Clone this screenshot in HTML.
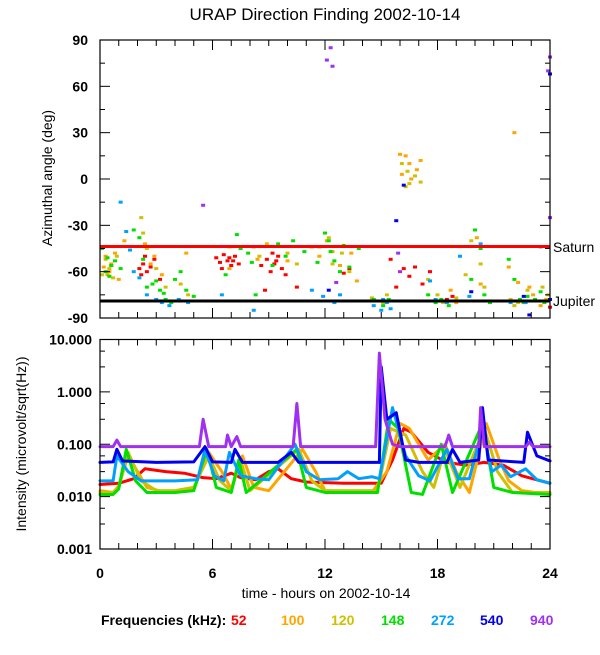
<!DOCTYPE html>
<html><head><meta charset="utf-8">
<style>
body{margin:0;background:#fff;}
svg text{font-family:"Liberation Sans",sans-serif;font-weight:bold;}
</style></head>
<body>
<svg id="chart" width="600" height="650" viewBox="0 0 600 650" xmlns="http://www.w3.org/2000/svg">
<text x="325" y="20" font-size="17" text-anchor="middle" style="font-weight:normal">URAP Direction Finding  2002-10-14</text>
<g id="topPanel"></g>
<g id="botPanel"></g>
<text transform="translate(52,178) rotate(-90)" font-size="14" text-anchor="middle" style="font-weight:normal">Azimuthal angle (deg)</text>
<text transform="translate(26,444) rotate(-90)" font-size="14" text-anchor="middle" style="font-weight:normal">Intensity (microvolt/sqrt(Hz))</text>
<text x="326" y="598" font-size="14" text-anchor="middle" style="font-weight:normal">time - hours on 2002-10-14</text>
<text x="553" y="252" font-size="14" style="font-weight:normal">Saturn</text>
<text x="553" y="306" font-size="14" style="font-weight:normal">Jupiter</text>
<g font-size="14">
<text x="101" y="625">Frequencies (kHz):</text>
<text x="231" y="625" fill="#ff0000">52</text>
<text x="281" y="625" fill="#ffa500">100</text>
<text x="331" y="625" fill="#d0c000">120</text>
<text x="381" y="625" fill="#00e000">148</text>
<text x="431" y="625" fill="#00a0ff">272</text>
<text x="480" y="625" fill="#0000ee">540</text>
<text x="530" y="625" fill="#a030f0">940</text>
</g>
</svg>
<script>
const freqs=['52','100','120','148','272','540','940'];
const colors=['#ff0000','#ffa500','#d0c000','#00e000','#00a0ff','#0000ee','#a030f0'];
const xTicks=[0,6,12,18,24];
const angleTicks=[90,60,30,0,-30,-60,-90];
const intTicks=[10,1,0.1,0.01,0.001];
const intTickLabels=['10.000','1.000','0.100','0.010','0.001'];
const saturnAngle=-43.7;
const jupiterAngle=-79;
// intensity series: [hour, value]
const s52=[[0,0.017],[1,0.018],[1.8,0.022],[2.4,0.034],[3.5,0.03],[4.5,0.028],[5.5,0.023],[6.2,0.022],[7,0.028],[7.5,0.023],[8.3,0.021],[9,0.03],[9.5,0.034],[10.2,0.022],[11,0.019],[13,0.018],[15,0.018],[15.6,0.05],[16.2,0.2],[16.6,0.17],[17.5,0.07],[18.5,0.045],[19.5,0.04],[20.5,0.045],[21.5,0.04],[22.5,0.025],[23.5,0.02],[24,0.018]];
const s100=[[0,0.013],[0.7,0.012],[1,0.016],[1.5,0.06],[2,0.03],[2.5,0.015],[3.5,0.012],[5,0.014],[5.8,0.07],[6.5,0.03],[7,0.014],[7.6,0.06],[8.2,0.015],[9,0.013],[10.8,0.08],[11.5,0.03],[12,0.013],[14.5,0.012],[15.3,0.03],[16,0.25],[16.5,0.2],[17.5,0.05],[18.4,0.1],[19,0.03],[19.7,0.012],[20.6,0.25],[21.3,0.05],[21.8,0.02],[22.5,0.013],[24,0.011]];
const s120=[[0,0.012],[0.7,0.012],[1,0.015],[1.5,0.07],[2.2,0.02],[3,0.013],[4,0.013],[5,0.015],[5.8,0.06],[6.4,0.02],[7,0.013],[7.5,0.05],[8,0.013],[10.6,0.08],[11.3,0.02],[12,0.013],[14.8,0.013],[15.5,0.2],[16.3,0.15],[17.2,0.03],[17.8,0.015],[18.4,0.08],[19.2,0.015],[20.5,0.2],[21.2,0.03],[22,0.012],[24,0.012]];
const s148=[[0,0.011],[0.7,0.011],[1,0.014],[1.4,0.08],[1.9,0.02],[2.5,0.012],[4,0.012],[5,0.013],[5.7,0.08],[6.2,0.015],[7,0.012],[7.4,0.05],[7.8,0.012],[10.5,0.08],[11,0.015],[12,0.012],[14.8,0.012],[15.4,0.3],[15.9,0.2],[16.6,0.012],[17.2,0.011],[18.2,0.1],[18.8,0.012],[20.4,0.25],[21,0.015],[22,0.012],[24,0.011]];
const s272=[[0,0.02],[0.7,0.02],[0.9,0.06],[1.5,0.03],[2.2,0.02],[4,0.02],[5.2,0.021],[5.6,0.08],[6.1,0.025],[6.6,0.02],[6.9,0.07],[7.5,0.025],[8.3,0.022],[9,0.021],[10.4,0.1],[11,0.03],[11.7,0.021],[12.7,0.022],[13.2,0.03],[13.8,0.022],[14.5,0.024],[14.9,0.022],[15.6,0.5],[16.3,0.06],[17,0.025],[17.6,0.02],[18.5,0.08],[19.1,0.022],[19.7,0.022],[20.4,0.2],[20.9,0.03],[21.4,0.04],[21.9,0.024],[22.7,0.034],[23.3,0.021],[24,0.018]];
const s540=[[0,0.045],[0.7,0.046],[0.9,0.08],[1.2,0.048],[3,0.045],[5,0.046],[5.6,0.09],[6,0.046],[7,0.045],[7.2,0.08],[7.6,0.045],[9.5,0.045],[10.2,0.07],[10.6,0.045],[14.9,0.045],[15,3],[15.3,0.3],[15.8,0.4],[16.3,0.05],[17,0.045],[18.5,0.045],[18.8,0.08],[19.2,0.045],[20.2,0.05],[20.4,0.5],[20.7,0.05],[22.6,0.045],[22.8,0.17],[23.3,0.06],[24,0.048]];
const s940=[[0,0.09],[0.7,0.09],[0.9,0.12],[1.1,0.09],[5.3,0.09],[5.5,0.3],[5.8,0.09],[6.7,0.09],[6.8,0.15],[7,0.09],[7.3,0.14],[7.5,0.09],[10.3,0.09],[10.5,0.6],[10.7,0.09],[14.7,0.09],[14.9,5.5],[15.2,0.3],[15.6,0.1],[16,0.09],[18.4,0.09],[18.6,0.15],[18.8,0.09],[20.2,0.09],[20.3,0.5],[20.5,0.09],[22.7,0.09],[22.9,0.11],[23.1,0.09],[24,0.09]];
const intSeries=[s52,s100,s120,s148,s272,s540,s940];
// azimuth scatter: [hour, angle]
const a52=[[2.1,-58],[2.3,-55],[2.5,-60],[2.7,-57],[2.9,-52],[3.2,-65],[2.4,-50],[2.2,-62],[6.2,-51],[6.4,-54],[6.6,-49],[6.8,-53],[7,-56],[7.2,-50],[7.4,-55],[6.5,-58],[6.9,-51],[7.1,-53],[8.6,-56],[8.9,-52],[9.1,-60],[9.3,-55],[9.5,-50],[9.7,-58],[9.9,-62],[9.2,-48],[9.4,-53],[8.8,-72],[10.5,-70],[13,-61],[13.3,-58],[15.5,-52],[15.8,-70],[16.2,-58],[16.5,-63],[16.8,-57],[17.2,-68],[17.6,-60],[18.2,-79],[18.5,-78],[18.8,-76],[24,-83]];
const a100=[[0.2,-57],[0.4,-62],[0.6,-55],[0.8,-48],[1,-65],[0.3,-50],[0.5,-60],[1.3,-40],[2.4,-42],[2.7,-55],[2.9,-50],[3.3,-62],[4.6,-48],[6.9,-58],[8.2,-44],[8.4,-52],[10,-53],[11.3,-44],[11.7,-50],[12.1,-40],[12.4,-47],[12.8,-56],[13.4,-48],[13.7,-66],[16,16],[16.3,15],[16.5,10],[16.6,0],[16.9,6],[17.1,12],[16.1,3],[18.7,-72],[19,-80],[19.4,-79],[20.1,-38],[20.3,-68],[21.8,-57],[22.1,30],[22.3,-67],[22.6,-80],[23.1,-75],[23.5,-82],[23.8,-78],[22.9,-70]];
const a120=[[0.1,-62],[0.3,-52],[0.5,-58],[0.7,-64],[0.9,-50],[0.6,-56],[2.2,-25],[2.3,-35],[2.5,-45],[3,-58],[3.5,-70],[4.3,-68],[4.7,-75],[6.9,-44],[8.5,-50],[8.9,-42],[10,-48],[10.5,-55],[11.7,-44],[12.2,-38],[12.4,-55],[12.9,-48],[13.3,-60],[14.5,-77],[15.1,-80],[15.3,-75],[16.1,10],[16.3,-5],[16.5,-3],[16.8,2],[17.1,-2],[16.4,5],[17.5,-65],[18,-75],[18.3,-80],[19,-77],[19.5,-62],[19.8,-40],[20.3,-55],[20.5,-70],[21.9,-78],[22.3,-80],[22.8,-72],[23.2,-79],[23.6,-70],[23.9,-75],[22.1,-82]];
const a148=[[0.1,-45],[0.3,-60],[0.6,-56],[0.8,-53],[1.1,-58],[0.5,-63],[0.4,-51],[1.8,-33],[2.1,-38],[2.3,-52],[2.5,-70],[2.8,-68],[3.2,-72],[3.5,-78],[3.8,-80],[4,-65],[4.3,-60],[4.6,-72],[5,-76],[3,-66],[3.4,-74],[6.7,-62],[7.3,-36],[7.5,-45],[7.9,-48],[8.1,-54],[8.3,-75],[9.2,-56],[9.5,-42],[9.9,-50],[10.3,-40],[10.9,-47],[11.6,-54],[12,-35],[12.2,-40],[12.5,-53],[12.8,-60],[13,-43],[13.3,-57],[13.8,-45],[12.3,-47],[14.6,-78],[15.1,-82],[15.4,-78],[17.5,-75],[17.9,-80],[18.2,-78],[18.6,-82],[19.8,-65],[20,-33],[20.3,-45],[20.5,-75],[20.8,-80],[21.8,-52],[22.1,-65],[22.4,-78],[22.8,-76],[23.2,-78],[23.5,-73],[23.7,-80],[22.6,-80],[23,-79]];
const a272=[[1.1,-15],[1.4,-34],[1.6,-46],[1.8,-60],[2.1,-64],[2.5,-75],[3,-78],[3.3,-80],[3.7,-82],[4.2,-78],[4.7,-80],[6.5,-75],[8.2,-85],[11.3,-72],[11.9,-76],[12.5,-80],[12.8,-75],[14.6,-82],[15,-85],[15.3,-80],[15.5,-84],[15.1,-78],[17.6,-66],[17.9,-78],[18.5,-80],[19.2,-50],[19.7,-76],[20.3,-42],[21.9,-80],[22.7,-80],[23.5,-44]];
const a540=[[12.2,-72],[15.8,-27],[16.2,-4],[19.8,-73],[22.6,-76],[22.9,-88],[24,-78],[24,68]];
const a940=[[5.5,-17],[12.3,85],[12.1,77],[12.4,73],[12.6,-67],[15.9,-48],[16,-60],[24,79],[23.9,70],[24,-25]];
const azSeries=[a52,a100,a120,a148,a272,a540,a940];

const NS='http://www.w3.org/2000/svg';
const X0=100,X1=550;
const xS=t=>X0+(X1-X0)*t/24;
const T0=40,T1=318;
const yA=a=>T1-(a+90)/180*(T1-T0);
const B0=339.5,B1=549;
const yI=v=>B0+(1-Math.log10(v))/4*(B1-B0);
function mk(tag,attrs,parent){const e=document.createElementNS(NS,tag);for(const k in attrs)e.setAttribute(k,attrs[k]);parent.appendChild(e);return e;}
const topG=document.getElementById('topPanel'),botG=document.getElementById('botPanel');

azSeries.forEach((pts,i)=>{
  const g=mk('g',{fill:colors[i]},topG);
  
  
  pts.forEach(p=>{
    const r=mk('rect',{x:xS(p[0])-2,y:yA(p[1])-1.5,width:4,height:3},g);
    
    
  });
});
const sl=mk('line',{x1:X0,x2:X1,y1:yA(saturnAngle),y2:yA(saturnAngle),stroke:'#ff0000','stroke-width':3},topG);


const jl=mk('line',{x1:X0,x2:X1,y1:yA(jupiterAngle),y2:yA(jupiterAngle),stroke:'#000','stroke-width':3},topG);



intSeries.forEach((pts,i)=>{
  const p=mk('polyline',{points:pts.map(q=>xS(q[0])+','+yI(q[1])).join(' '),fill:'none',stroke:colors[i],'stroke-width':3,'stroke-linejoin':'round','stroke-linecap':'round'},botG);
  
  
});

function frame(parent,y0,y1,name){
  const f=mk('rect',{x:X0,y:y0,width:X1-X0,height:y1-y0,fill:'none',stroke:'#000','stroke-width':1.2},parent);
  
  
  for(let h=0;h<=24;h++){
    const L=(h%6===0)?10:6;
    mk('line',{x1:xS(h),x2:xS(h),y1:y0,y2:y0+L,stroke:'#000'},parent);
    mk('line',{x1:xS(h),x2:xS(h),y1:y1,y2:y1-L,stroke:'#000'},parent);
  }
}
frame(topG,T0,T1,'azimuth-frame');
frame(botG,B0,B1,'intensity-frame');
for(let a=-90;a<=90;a+=15){
  const L=(a%30===0)?10:5;
  mk('line',{x1:X0,x2:X0+L,y1:yA(a),y2:yA(a),stroke:'#000'},topG);
  mk('line',{x1:X1,x2:X1-L,y1:yA(a),y2:yA(a),stroke:'#000'},topG);
}
angleTicks.forEach(a=>{
  const t=mk('text',{x:X0-12,y:yA(a)+5,'font-size':14,'text-anchor':'end'},topG);
  t.textContent=String(a);
  
  
});
for(let d=-3;d<=1;d++){
  const v=Math.pow(10,d);
  mk('line',{x1:X0,x2:X0+10,y1:yI(v),y2:yI(v),stroke:'#000'},botG);
  mk('line',{x1:X1,x2:X1-10,y1:yI(v),y2:yI(v),stroke:'#000'},botG);
  if(d<1){[3,6].forEach(m=>{
    mk('line',{x1:X0,x2:X0+5,y1:yI(v*m),y2:yI(v*m),stroke:'#000'},botG);
    mk('line',{x1:X1,x2:X1-5,y1:yI(v*m),y2:yI(v*m),stroke:'#000'},botG);
  });}
}
intTicks.forEach((v,i)=>{
  const t=mk('text',{x:X0-8,y:yI(v)+5,'font-size':14,'text-anchor':'end'},botG);
  t.textContent=intTickLabels[i];
  
  
});
xTicks.forEach(h=>{
  const t=mk('text',{x:xS(h),y:578,'font-size':14,'text-anchor':'middle'},botG);
  t.textContent=String(h);
  
  
});
</script>
</body></html>
